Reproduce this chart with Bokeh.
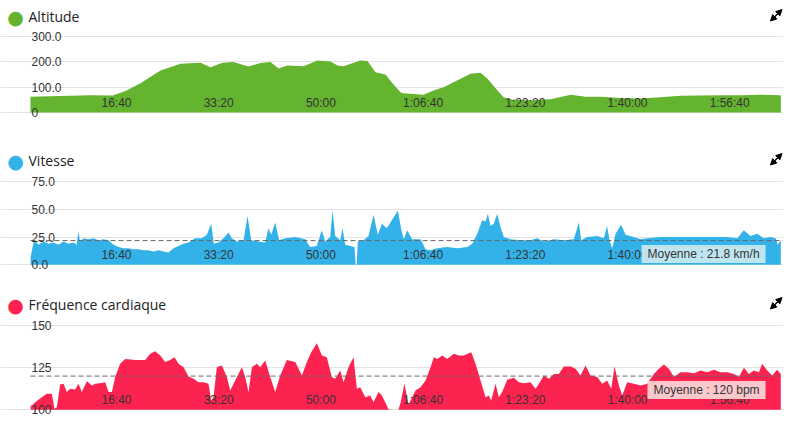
from bokeh.plotting import figure
from bokeh.layouts import column
from bokeh.models import Range1d, LinearAxis, FixedTicker, Grid, Label, Arrow, NormalHead
from bokeh.embed import file_html
from bokeh.resources import INLINE

# ---- data -------------------------------------------------------------
time_ticks = [1000, 2000, 3000, 4000, 5000, 6000, 7000]
time_tick_labels = ["16:40", "33:20", "50:00", "1:06:40", "1:23:20", "1:40:00", "1:56:40"]

alt_t = [158, 354, 550, 746, 961, 1089, 1235, 1430, 1626, 1822, 1920, 2037, 2145, 2292, 2409,
         2507, 2585, 2673, 2830, 2967, 3094, 3162, 3221, 3387, 3456, 3534, 3632, 3700, 3779,
         3808, 4004, 4102, 4200, 4464, 4562, 4630, 4728, 4787, 4885, 5051, 5247, 5443, 5590,
         5736, 5932, 6128, 6324, 6520, 6715, 6911, 7107, 7302, 7500]
alt_v = [62, 64, 66, 68, 67, 85, 115, 166, 192, 196, 179, 196, 199, 182, 195,
         199, 174, 186, 183, 205, 201, 186, 183, 205, 203, 159, 150, 115, 80,
         76, 70, 87, 100, 153, 157, 133, 87, 60, 50, 48, 52, 70, 62,
         62, 57, 55, 60, 66, 67, 68, 68, 70, 68]

spd_t = [160, 188, 210, 237, 286, 335, 384, 433, 481, 530, 579, 609, 628, 643, 677, 726, 775,
         824, 873, 922, 971, 1020, 1068, 1117, 1166, 1215, 1264, 1313, 1362, 1411, 1460, 1509,
         1558, 1607, 1656, 1705, 1754, 1770, 1835, 1884, 1927, 1952, 1998, 2047, 2096, 2128,
         2177, 2243, 2282, 2318, 2390, 2455, 2487, 2514, 2553, 2592, 2651, 2749, 2847, 2895,
         2960, 3009, 3042, 3091, 3114, 3140, 3189, 3211, 3238, 3287, 3329, 3340, 3350, 3361,
         3417, 3466, 3515, 3557, 3596, 3645, 3694, 3753, 3786, 3811, 3844, 3893, 3975, 4024,
         4073, 4138, 4236, 4334, 4432, 4481, 4530, 4578, 4611, 4634, 4660, 4692, 4725, 4757,
         4790, 4855, 4953, 5051, 5116, 5181, 5279, 5377, 5475, 5524, 5547, 5606, 5704, 5768,
         5801, 5824, 5850, 5883, 5938, 5981, 6062, 6128, 6193, 6323, 6453, 6584, 6715, 6845,
         6976, 7074, 7138, 7204, 7269, 7334, 7399, 7448, 7471, 7500]
spd_v = [7, 20, 21, 18, 21, 19, 20, 18, 21, 19, 20, 18, 30, 21, 24, 23, 24,
         22, 23, 22, 18, 16, 15, 15, 14, 14, 13, 13, 12, 13, 12, 11,
         15, 17, 19, 20, 23, 24, 24, 27, 37, 19, 20, 24, 29, 24,
         21, 22, 44, 22, 21, 20, 33, 27, 38, 22, 24, 25, 23, 16,
         17, 31, 21, 25, 49, 26, 22, 33, 18, 17, 16, 0, 0, 21,
         22, 26, 45, 27, 37, 33, 40, 49, 32, 23, 31, 23, 23, 14,
         13, 15, 16, 15, 16, 19, 28, 40, 39, 46, 35, 37, 46, 34,
         25, 23, 22, 22, 24, 21, 23, 22, 23, 38, 22, 25, 26, 24,
         35, 22, 15, 28, 36, 27, 25, 23, 24, 25, 25, 25, 25, 25,
         25, 24, 31, 26, 28, 24, 25, 24, 18, 22]

hr_t = [160, 172, 204, 269, 318, 367, 393, 416, 449, 482, 514, 547, 596, 628, 661, 710, 759,
        791, 840, 889, 922, 955, 987, 1036, 1085, 1183, 1281, 1330, 1379, 1428, 1476, 1525,
        1568, 1607, 1656, 1705, 1754, 1803, 1852, 1900, 1927, 1949, 1982, 2031, 2080, 2113,
        2161, 2227, 2259, 2292, 2325, 2373, 2406, 2455, 2504, 2553, 2602, 2667, 2749, 2814,
        2863, 2905, 2961, 3010, 3058, 3107, 3140, 3189, 3222, 3270, 3319, 3352, 3385, 3434,
        3483, 3515, 3564, 3597, 3662, 3700, 3759, 3779, 3818, 3857, 3926, 3975, 4024, 4073,
        4105, 4138, 4187, 4236, 4301, 4350, 4399, 4448, 4471, 4513, 4562, 4611, 4643, 4666,
        4709, 4741, 4774, 4823, 4888, 4937, 4986, 5051, 5100, 5133, 5182, 5231, 5280, 5328,
        5377, 5443, 5492, 5540, 5589, 5638, 5704, 5753, 5801, 5841, 5873, 5916, 5948, 5997,
        6062, 6128, 6193, 6258, 6307, 6356, 6405, 6454, 6519, 6584, 6650, 6715, 6780, 6845,
        6910, 6976, 7041, 7090, 7139, 7188, 7237, 7286, 7318, 7367, 7416, 7465, 7500]
hr_v = [102.6, 102.6, 104.5, 107.5, 109.5, 109.5, 100.6, 101.5, 115, 115.4, 110.5, 112.5, 112,
        115.4, 110.5, 117, 114.4, 115.4, 115.8, 116.4, 110.5, 110.5, 119.4, 127.3, 130.2, 129.6,
        129.6, 133.2, 134.8, 132.2, 128.3, 129.6, 131.2, 127.3, 125.3, 119.8, 118.4, 116.4,
        116.4, 115.4, 105.5, 107.5, 125.3, 126.3, 119.4, 111.5, 117.4, 125.3, 119.4, 110.5,
        125.3, 127.3, 125.3, 129.2, 119.4, 110.5, 120.4, 129.6, 128.3, 120.4, 128.3, 134.2,
        139.5, 132.2, 131.2, 119.4, 118.4, 123.3, 116.4, 125.3, 131.2, 112.5, 113.4, 107.5,
        108.5, 104.5, 110.5, 108.5, 100.4, 100, 100, 104, 115.6, 103, 111.5, 113.4, 117.4, 125.3,
        131.2, 130.2, 132.2, 130.2, 133.2, 132.2, 132.2, 133.6, 134.2, 127.3, 117.4, 107.5,
        108.5, 105.5, 115.4, 107.5, 110.5, 117.8, 119, 116.4, 115.8, 116.4, 112.5, 115.4,
        120.4, 118.4, 121.3, 121.3, 125.7, 125.7, 124.3, 120.4, 126.3, 120.4, 119.4, 115.4,
        117.4, 112.5, 125.7, 114.4, 108.5, 116.4, 115.4, 114.4, 115.4, 121.3, 124.3, 126.9,
        124.3, 119.4, 122.3, 122.3, 121.7, 123.3, 122.3, 123.7, 122.3, 122.3, 121.3, 119.4,
        124.9, 121.3, 123.3, 122.3, 127.3, 123.3, 120.4, 123.7, 121.3]

spd_avg = 21.8
spd_avg_text = "Moyenne : 21.8 km/h"
hr_avg = 120
hr_avg_text = "Moyenne : 120 bpm"

# ---- styling / geometry ----------------------------------------------
GREEN = "#64b42f"
BLUE = "#33b2ea"
RED = "#fd2350"
TXT = "#333333"
TICK_FONT = "Liberation Sans"
W = 783
PX_PER_S = 0.1022
X_ORIGIN_PX = 13.8            # pixel where t = 0 would be
T_LEFT = (30 - X_ORIGIN_PX) / PX_PER_S      # plot area starts at px 30
X0 = (0 - X_ORIGIN_PX) / PX_PER_S
X1 = (W - X_ORIGIN_PX) / PX_PER_S


def panel(title, color, t, v, ylo, yhi, top_px, bot_px, H, yticks, ylabels,
          avg=None, avg_text=None, avg_bg=None, avg_box=None):
    s = (bot_px - top_px) / (yhi - ylo)
    yr = Range1d(ylo - (H - bot_px) / s, yhi + top_px / s)
    p = figure(width=W, height=H, x_range=Range1d(X0, X1), y_range=yr,
               x_axis_location=None, y_axis_location=None, toolbar_location=None,
               output_backend="svg", min_border=0, outline_line_color=None,
               background_fill_color="white", border_fill_color="white")
    p.grid.visible = False
    p.add_layout(Grid(dimension=1, ticker=FixedTicker(ticks=yticks), bounds=(T_LEFT, X1),
                      grid_line_color="#e3e3e3", grid_line_width=1))
    p.varea(x=t, y1=ylo, y2=v, fill_color=color, fill_alpha=1.0)

    if avg is not None:
        p.line(x=[T_LEFT, X1], y=[avg, avg], line_color="#666666",
               line_dash="5 3", line_width=1)

    xa = LinearAxis(ticker=FixedTicker(ticks=time_ticks),
                    major_label_overrides=dict(zip(time_ticks, time_tick_labels)),
                    fixed_location=ylo, axis_line_color=None, major_tick_line_color=None,
                    minor_tick_line_color=None, major_tick_in=0, major_tick_out=0,
                    major_label_standoff=3, major_label_text_font=TICK_FONT,
                    major_label_text_font_size="12px", major_label_text_color=TXT)
    p.add_layout(xa, "above")
    ya = LinearAxis(ticker=FixedTicker(ticks=yticks),
                    major_label_overrides=dict(zip(yticks, ylabels)),
                    fixed_location=T_LEFT, axis_line_color=None, major_tick_line_color=None,
                    minor_tick_line_color=None, major_tick_in=0, major_tick_out=0,
                    major_label_standoff=1, major_label_text_font=TICK_FONT,
                    major_label_text_font_size="12px", major_label_text_color=TXT)
    p.add_layout(ya, "right")

    ty = H - 16
    p.add_layout(Label(x=15, y=ty, x_units="screen", y_units="screen", text="●",
                       text_color=color, text_font="DejaVu Sans", text_font_size="19px",
                       text_align="center", text_baseline="middle"))
    p.add_layout(Label(x=28, y=ty, x_units="screen", y_units="screen", text=title,
                       text_color="#222222", text_font="Open Sans", text_font_size="14px",
                       text_align="left", text_baseline="middle"))
    head = dict(size=6, fill_color="black", line_color="black", line_width=1)
    p.add_layout(Arrow(start=NormalHead(**head), end=NormalHead(**head),
                       x_start=770, y_start=H - 20.5, x_end=781.5, y_end=H - 9,
                       start_units="screen", end_units="screen",
                       line_color="black", line_width=1.5))
    if avg is not None:
        bx, by = avg_box
        p.add_layout(Label(x=bx, y=H - by, x_units="screen", y_units="screen",
                           text=avg_text, text_color=TXT, text_font=TICK_FONT,
                           text_font_size="12px", text_align="left",
                           text_baseline="middle", background_fill_color=avg_bg,
                           padding=(6, 2)))
    return p


p1 = panel("Altitude", GREEN, alt_t, alt_v, 0, 300, 36, 112, 144,
           [0, 100, 200, 300], ["0", "100.0", "200.0", "300.0"])
p2 = panel("Vitesse", BLUE, spd_t, spd_v, 0, 75, 37, 120.3, 144,
           [0, 25, 50, 75], ["0.0", "25.0", "50.0", "75.0"],
           avg=spd_avg, avg_text=spd_avg_text, avg_bg="#bfe6f0", avg_box=(641, 109.5))
p3 = panel("Fréquence cardiaque", RED, hr_t, hr_v, 100, 150, 37, 121.3, 141,
           [100, 125, 150], ["100", "125", "150"],
           avg=hr_avg, avg_text=hr_avg_text, avg_bg="#fac8cd", avg_box=(647, 101.4))

layout = column(p1, p2, p3, spacing=0)
open("out.html", "w").write(file_html(layout, INLINE))
